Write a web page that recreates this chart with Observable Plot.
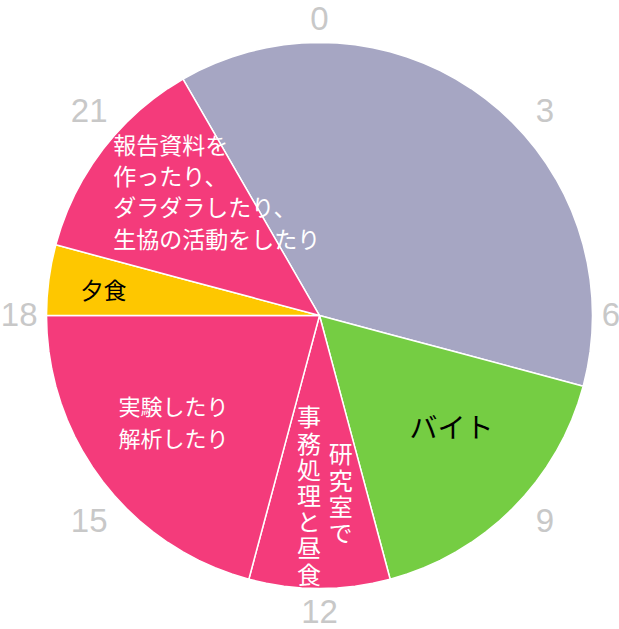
<!DOCTYPE html>
<html><head><meta charset="utf-8">
<script src="https://cdn.jsdelivr.net/npm/d3@7"></script>
<script src="https://cdn.jsdelivr.net/npm/@observablehq/plot@0.6"></script>
<style>body{margin:0;background:#fff}</style>
</head><body><div id="chart"></div>
<script>
// ---- data ----
const activities = ["睡眠", "バイト", "研究室で事務処理と昼食", "実験したり解析したり", "夕食", "報告資料を作ったり、ダラダラしたり、生協の活動をしたり"];
const startHours = [22, 7, 11, 13, 18, 19];
const endHours   = [7, 11, 13, 18, 19, 22];
const hourTicks  = [0, 3, 6, 9, 12, 15, 18, 21];

// ---- styles / layout ----
const palette = ["#a6a6c3", "#75cd43", "#f43b7b", "#f43b7b", "#fec700", "#f43b7b"];
const lon = h => 180 - 15 * h;          // hour -> longitude (clockwise from top)
const lat = r => 90 - 90 * r;           // radius fraction -> latitude
const verticalTexts = ["研究室で", "事務処理と昼食"];
const labelLayout = [
  {text: "バイト", h: 8.72, r: 0.639, size: 28, fill: "black", anchor: "middle", lh: 1},
  {text: "夕食", h: 18.42, r: 0.796, size: 23, fill: "black", anchor: "middle", lh: 1},
  {text: "実験したり\n解析したり", h: 15.61, r: 0.66, size: 22, fill: "white", anchor: "middle", lh: 1.45},
  {text: "報告資料を\n作ったり、\nダラダラしたり、\n生協の活動をしたり", h: 20.08, r: 0.883, size: 23, fill: "white", anchor: "start", lh: 1.36},
  {text: "研究室で", h: 11.53, r: 0.633, size: 24, fill: "white", anchor: "middle", lh: 1},
  {text: "事務処理と昼食", h: 12.23, r: 0.638, size: 24, fill: "white", anchor: "middle", lh: 1}
];
// small outward nudges of the hour labels (px)
const tickNudge = h => {
  const s = Math.round(Math.sin(h * Math.PI / 12) * 100) / 100;
  const c = Math.round(Math.cos(h * Math.PI / 12) * 100) / 100;
  if (h === 0) return {dx: 0, dy: 4};
  if (h === 12) return {dx: 0, dy: -3};
  if (h === 6) return {dx: -9, dy: 0};
  if (h === 18) return {dx: 0, dy: 0};
  return {dx: s > 0 ? 13 : -18, dy: c > 0 ? 8.5 : -6};
};

// ---- build wedges ----
const slices = activities.map((name, i) => {
  const h0 = startHours[i];
  let h1 = endHours[i];
  if (h1 <= h0) h1 += 24;
  const ring = [[0, 90]];
  for (let h = h0; h < h1; h += 0.5) ring.push([lon(h), 0]);
  ring.push([lon(h1), 0]);
  ring.push([0, 90]);
  return {type: "Feature", properties: {name}, geometry: {type: "Polygon", coordinates: [ring]}};
});

const chart = Plot.plot({
  width: 619,
  height: 629,
  marginLeft: 46, marginRight: 27, marginTop: 42, marginBottom: 41,
  projection: {
    type: "azimuthal-equidistant",
    rotate: [0, -90],
    clip: null,
    domain: d3.geoCircle().center([0, 90]).radius(90).precision(1)()
  },
  color: {domain: activities, range: palette},
  marks: [
    Plot.geo(slices, {fill: d => d.properties.name, stroke: "white", strokeWidth: 1.5}),
    ...hourTicks.map(h => Plot.text([h], {x: d => lon(d), y: lat(1.1), text: d => String(d), fill: "#c8c8c8",
      fontSize: 33, fontFamily: "Liberation Sans, Arial, sans-serif", ...tickNudge(h)})),
    ...labelLayout.map(l => Plot.text([l], {x: lon(l.h), y: lat(l.r), text: d => d.text,
      fill: l.fill, fontSize: l.size, textAnchor: l.anchor, lineHeight: l.lh,
      fontFamily: "Noto Sans CJK JP, sans-serif"}))
  ]
});
// vertical (tategaki) labels
d3.select(chart).selectAll("text").each(function() {
  if (verticalTexts.includes(this.textContent)) {
    this.removeAttribute("dy");
    this.style.writingMode = "vertical-rl";
    this.style.letterSpacing = "2.2px";
  }
});
document.getElementById("chart").appendChild(chart);
</script>
</body></html>
